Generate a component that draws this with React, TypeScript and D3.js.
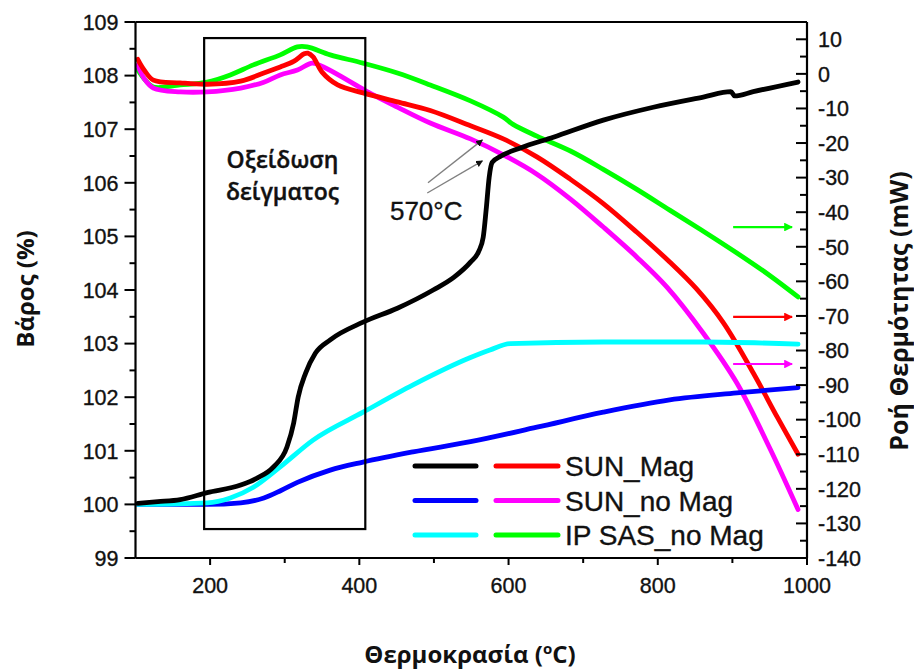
import React from 'react';
import * as d3 from 'd3';

// ---------- data ----------
const tempTicks = [200, 400, 600, 800, 1000];
const tempMinorTicks = [300, 500, 700, 900];
const weightTicks = [99, 100, 101, 102, 103, 104, 105, 106, 107, 108, 109];
const weightMinorTicks = [99.5, 100.5, 101.5, 102.5, 103.5, 104.5, 105.5, 106.5, 107.5, 108.5];
const heatTicks = [10, 0, -10, -20, -30, -40, -50, -60, -70, -80, -90, -100, -110, -120, -130, -140];
const heatMinorTicks = [15, 5, -5, -15, -25, -35, -45, -55, -65, -75, -85, -95, -105, -115, -125, -135];

// weight (%) vs temperature
const sunMagWeight: [number, number][] = [
  [103, 100.02], [130, 100.05], [160, 100.09], [196, 100.22], [241, 100.36], [263, 100.49],
  [285, 100.7], [303, 101.07], [312, 101.52], [318, 102.0], [328, 102.45], [341, 102.82],
  [361, 103.07], [405, 103.4], [451, 103.66], [499, 104.0], [527, 104.24], [549, 104.52],
  [560, 104.72], [566, 104.98], [570, 105.5], [574, 106.1], [578, 106.38], [590, 106.5],
  [616, 106.65], [660, 106.85], [727, 107.17], [794, 107.41], [861, 107.6], [898, 107.7],
  [903, 107.62], [928, 107.7], [988, 107.88],
];
const sunNoMagWeight: [number, number][] = [
  [103, 100.0], [196, 100.0], [241, 100.03], [272, 100.12], [295, 100.26], [317, 100.41],
  [361, 100.64], [405, 100.79], [472, 100.98], [549, 101.17], [638, 101.44], [727, 101.72],
  [816, 101.95], [906, 102.08], [988, 102.18],
];
const ipSasWeight: [number, number][] = [
  [103, 100.0], [196, 100.03], [227, 100.12], [258, 100.32], [294, 100.7], [338, 101.2],
  [405, 101.72], [472, 102.23], [549, 102.74], [575, 102.88], [602, 103.0], [727, 103.03],
  [861, 103.03], [988, 102.99],
];

// heat flow (mW) vs temperature
const sunMagHeat: [number, number][] = [
  [103, 4.2], [112, 1.0], [124, -1.8], [160, -2.6], [196, -3.0], [241, -2.1], [272, 0.25],
  [294, 2.0], [312, 3.6], [326, 5.8], [331, 6.0], [338, 4.9], [350, 0.5], [371, -3.2],
  [405, -5.5], [451, -8.1], [495, -10.6], [549, -15.0], [593, -18.8], [638, -24],
  [683, -30.5], [727, -37.5], [772, -45.8], [816, -54.4], [852, -62.2], [888, -72],
  [928, -86.5], [960, -99.2], [988, -110],
];
const sunNoMagHeat: [number, number][] = [
  [103, 2.5], [112, -1.5], [124, -4.1], [160, -5.2], [196, -5.2], [241, -4.1], [272, -2.4],
  [294, -0.3], [317, 1.1], [337, 3.1], [352, 2.0], [384, -1.8], [411, -5.2], [451, -9.6],
  [495, -14.2], [549, -18.8], [593, -23.4], [638, -29.0], [683, -36.2], [727, -44.3],
  [772, -53], [812, -61.6], [861, -75], [906, -89.4], [950, -108.2], [988, -126],
];
const ipSasHeat: [number, number][] = [
  [103, 1.2], [112, -1.5], [124, -3.8], [160, -3.2], [196, -2.4], [227, -0.3], [258, 2.6],
  [294, 5.5], [317, 7.8], [330, 7.8], [361, 5.5], [405, 3.1], [451, 0.25], [495, -3.2],
  [549, -7.8], [593, -12.5], [606, -14.6], [638, -18.0], [683, -22.3], [727, -27.6],
  [772, -33.4], [816, -39.4], [861, -45.5], [906, -51.8], [950, -58.3], [988, -64.5],
];

const legendRows = [
  { name: 'SUN_Mag', weight: '#000000', heat: '#ff0000' },
  { name: 'SUN_no Mag', weight: '#0000ff', heat: '#ff00ff' },
  { name: 'IP SAS_no Mag', weight: '#00ffff', heat: '#00ff00' },
];

// oxidation box in data coords (temperature, weight)
const boxT = [192, 408];
const boxW = [99.54, 108.7];
// 570°C pointer lines (temperature, weight)
const pointerLines: [number, number, number, number][] = [
  [492, 106.0, 565, 106.8],
  [491, 105.81, 565, 106.41],
];
// axis-indicator arrows: [T start, T end, heat value, color]
const axisArrows: [number, number, number, string][] = [
  [901, 980, -44.3, '#00ff00'],
  [901, 980, -70.3, '#ff0000'],
  [901, 980, -83.9, '#ff00ff'],
];

// ---------- layout ----------
const W = 914;
const H = 669;
const plotLeft = 135.5;
const plotRight = 807;
const plotTop = 22;
const plotBottom = 558;

export default function App() {
  const x = d3.scaleLinear().domain([100, 1000]).range([plotLeft, plotRight]);
  const yL = d3.scaleLinear().domain([99, 109]).range([plotBottom, plotTop]);
  const yR = d3.scaleLinear().domain([-140, 15]).range([plotBottom, plotTop]);

  const lineL = d3.line<[number, number]>().x(d => x(d[0])).y(d => yL(d[1])).curve(d3.curveMonotoneX);
  const lineR = d3.line<[number, number]>().x(d => x(d[0])).y(d => yR(d[1])).curve(d3.curveCatmullRom.alpha(0.5));

  const tickFont = "'Liberation Sans', Arial, sans-serif";
  const titleFont = "'Open Sans', 'Noto Sans', sans-serif";
  const lw = 4.8;
  const tickStroke = { stroke: '#111', strokeWidth: 0.35 };

  const series = [
    { d: lineR(ipSasHeat), c: '#00ff00' },
    { d: lineR(sunNoMagHeat), c: '#ff00ff' },
    { d: lineR(sunMagHeat), c: '#ff0000' },
    { d: lineL(sunNoMagWeight), c: '#0000ff' },
    { d: lineL(ipSasWeight), c: '#00ffff' },
    { d: lineL(sunMagWeight), c: '#000000' },
  ];

  return (
    <svg width={W} height={H} style={{ position: 'absolute', left: 0, top: 0, background: '#fff' }}>
      <defs>
        <marker id="arrBlack" viewBox="0 0 10 10" refX="9" refY="5" markerWidth="5" markerHeight="5" orient="auto">
          <path d="M0,0 L10,5 L0,10 z" fill="#111" />
        </marker>
        {axisArrows.map((a, i) => (
          <marker key={i} id={`arrC${i}`} viewBox="0 0 10 10" refX="9" refY="5" markerWidth="4.5" markerHeight="4" orient="auto">
            <path d="M0,0 L10,5 L0,10 z" fill={a[3]} />
          </marker>
        ))}
      </defs>

      {/* data curves */}
      {series.map((s, i) => (
        <path key={i} d={s.d || ''} fill="none" stroke={s.c} strokeWidth={lw} strokeLinejoin="round" strokeLinecap="round" />
      ))}

      {/* oxidation box */}
      <rect x={x(boxT[0])} y={yL(boxW[1])} width={x(boxT[1]) - x(boxT[0])} height={yL(boxW[0]) - yL(boxW[1])}
        fill="none" stroke="#000" strokeWidth={2.2} />
      <text x={x(297)} y={yL(106.28)} textAnchor="middle" fontFamily={titleFont} fontWeight={600} fontSize={23} fill="#111" stroke="#111" strokeWidth={0.4}>Οξείδωση</text>
      <text x={x(297)} y={yL(105.68)} textAnchor="middle" fontFamily={titleFont} fontWeight={600} fontSize={23} fill="#111" stroke="#111" strokeWidth={0.4}>δείγματος</text>

      {/* 570°C annotation */}
      {pointerLines.map((p, i) => (
        <line key={i} x1={x(p[0])} y1={yL(p[1])} x2={x(p[2])} y2={yL(p[3])} stroke="#808080" strokeWidth={1.4} markerEnd="url(#arrBlack)" />
      ))}
      <text x={x(441)} y={yL(105.3)} fontFamily={tickFont} fontSize={26} fill="#111" {...tickStroke}>570°C</text>

      {/* axis indicator arrows */}
      {axisArrows.map((a, i) => (
        <line key={i} x1={x(a[0])} y1={yR(a[2])} x2={x(a[1])} y2={yR(a[2])} stroke={a[3]} strokeWidth={2.2} markerEnd={`url(#arrC${i})`} />
      ))}

      {/* frame */}
      <line x1={plotLeft} y1={plotTop} x2={plotRight} y2={plotTop} stroke="#000" strokeWidth={2} />
      <line x1={plotLeft} y1={plotTop} x2={plotLeft} y2={plotBottom} stroke="#000" strokeWidth={2.2} />
      <line x1={plotRight} y1={plotTop} x2={plotRight} y2={plotBottom} stroke="#000" strokeWidth={2.2} />
      <line x1={plotLeft} y1={plotBottom} x2={plotRight} y2={plotBottom} stroke="#000" strokeWidth={2.2} />

      {/* left axis */}
      {weightTicks.map(t => (
        <g key={t}>
          <line x1={plotLeft - 11} x2={plotLeft} y1={yL(t)} y2={yL(t)} stroke="#000" strokeWidth={2} />
          <text x={plotLeft - 17} y={yL(t)} dy="0.36em" textAnchor="end" fontFamily={tickFont} fontSize={21.5} fill="#111" {...tickStroke}>{t}</text>
        </g>
      ))}
      {weightMinorTicks.map(t => (
        <line key={t} x1={plotLeft - 6} x2={plotLeft} y1={yL(t)} y2={yL(t)} stroke="#000" strokeWidth={2} />
      ))}

      {/* right axis */}
      {heatTicks.map(t => (
        <g key={t}>
          <line x1={plotRight - 11} x2={plotRight} y1={yR(t)} y2={yR(t)} stroke="#000" strokeWidth={2} />
          <text x={plotRight + 11} y={yR(t)} dy="0.36em" textAnchor="start" fontFamily={tickFont} fontSize={21.5} fill="#111" {...tickStroke}>{t}</text>
        </g>
      ))}
      {heatMinorTicks.map(t => (
        <line key={t} x1={plotRight - 7} x2={plotRight} y1={yR(t)} y2={yR(t)} stroke="#000" strokeWidth={2} />
      ))}

      {/* bottom axis */}
      {tempTicks.map(t => (
        <g key={t}>
          <line x1={x(t)} x2={x(t)} y1={plotBottom} y2={plotBottom + 7} stroke="#000" strokeWidth={2} />
          <text x={x(t)} y={plotBottom + 35} textAnchor="middle" fontFamily={tickFont} fontSize={21.5} fill="#111" {...tickStroke}>{t}</text>
        </g>
      ))}
      {tempMinorTicks.map(t => (
        <line key={t} x1={x(t)} x2={x(t)} y1={plotBottom} y2={plotBottom + 5} stroke="#000" strokeWidth={2} />
      ))}

      {/* legend */}
      {legendRows.map((l, i) => {
        const yy = 466 + i * 34.5;
        return (
          <g key={l.name}>
            <line x1={415} x2={476} y1={yy} y2={yy} stroke={l.weight} strokeWidth={5} strokeLinecap="round" />
            <line x1={496} x2={558} y1={yy} y2={yy} stroke={l.heat} strokeWidth={5} strokeLinecap="round" />
            <text x={565} y={yy + 10} fontFamily={tickFont} fontSize={28} fill="#111" {...tickStroke}>{l.name}</text>
          </g>
        );
      })}

      {/* axis titles */}
      <text transform={`translate(34,289) rotate(-90)`} textAnchor="middle" fontFamily={titleFont} fontWeight={700} fontSize={24} fill="#111">Βάρος (%)</text>
      <text transform={`translate(908,311) rotate(-90)`} textAnchor="middle" fontFamily={titleFont} fontWeight={700} fontSize={25} fill="#111">Ροή Θερμότητας (mW)</text>
      <text x={470} y={663} textAnchor="middle" fontFamily={titleFont} fontWeight={700} fontSize={24} fill="#111">
        Θερμοκρασία (<tspan fontSize={15} dy={-9}>o</tspan><tspan dy={9}>C)</tspan>
      </text>
    </svg>
  );
}
